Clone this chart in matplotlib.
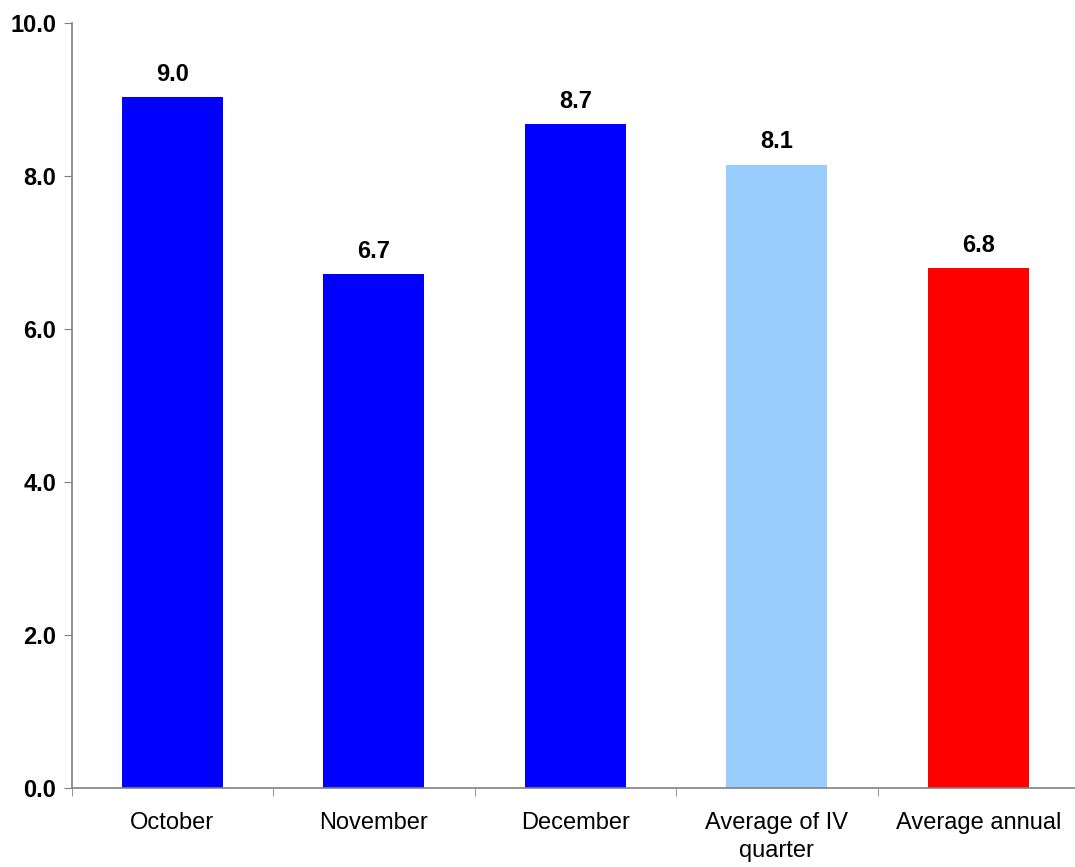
import matplotlib.pyplot as plt

# Dane do wykresu
kategorie = ['October', 'November', 'December', 'Average of IV\nquarter', 'Average annual']
wartosci = [9.03, 6.72, 8.68, 8.15, 6.80]
etykiety = ['9.0', '6.7', '8.7', '8.1', '6.8']
kolory = ['#0000FF', '#0000FF', '#0000FF', '#99CCFF', '#FF0000']
y_ticks = [0, 2, 4, 6, 8, 10]

plt.rcParams['font.family'] = ['Liberation Sans', 'DejaVu Sans']

fig = plt.figure(figsize=(10.75, 8.67), dpi=100)
# os wychodzi lekko poza prawa krawedz, jak w oryginale
ax = fig.add_axes([71.5 / 1075, 79 / 867, (1079 - 71.5) / 1075, (788 - 23) / 867])

x = list(range(len(kategorie)))
ax.bar(x, wartosci, width=0.5, color=kolory)

for xi, v, lab in zip(x, wartosci, etykiety):
    ax.annotate(lab, (xi, v), xytext=(0, 8), textcoords='offset points',
                ha='center', va='bottom', fontsize=17, fontweight='bold')

ax.set_ylim(0, 10)
ax.set_xlim(-0.5, 4.5)
ax.set_yticks(y_ticks)
ax.set_yticklabels([f'{t:.1f}' for t in y_ticks], fontsize=17, fontweight='bold')

ax.set_xticks(x)
ax.set_xticklabels(kategorie, fontsize=17, linespacing=1.4)
ax.tick_params(axis='x', length=0, pad=17)
ax.set_xticks([i - 0.5 for i in range(len(kategorie) + 1)], minor=True)
ax.tick_params(axis='x', which='minor', length=6, direction='out', color='#808080')
ax.tick_params(axis='y', length=6, direction='out', color='#808080', pad=5)

for s in ['top', 'right']:
    ax.spines[s].set_visible(False)
for s in ['left', 'bottom']:
    ax.spines[s].set_color('#808080')
    ax.spines[s].set_linewidth(1.2)

plt.savefig('out.png')
